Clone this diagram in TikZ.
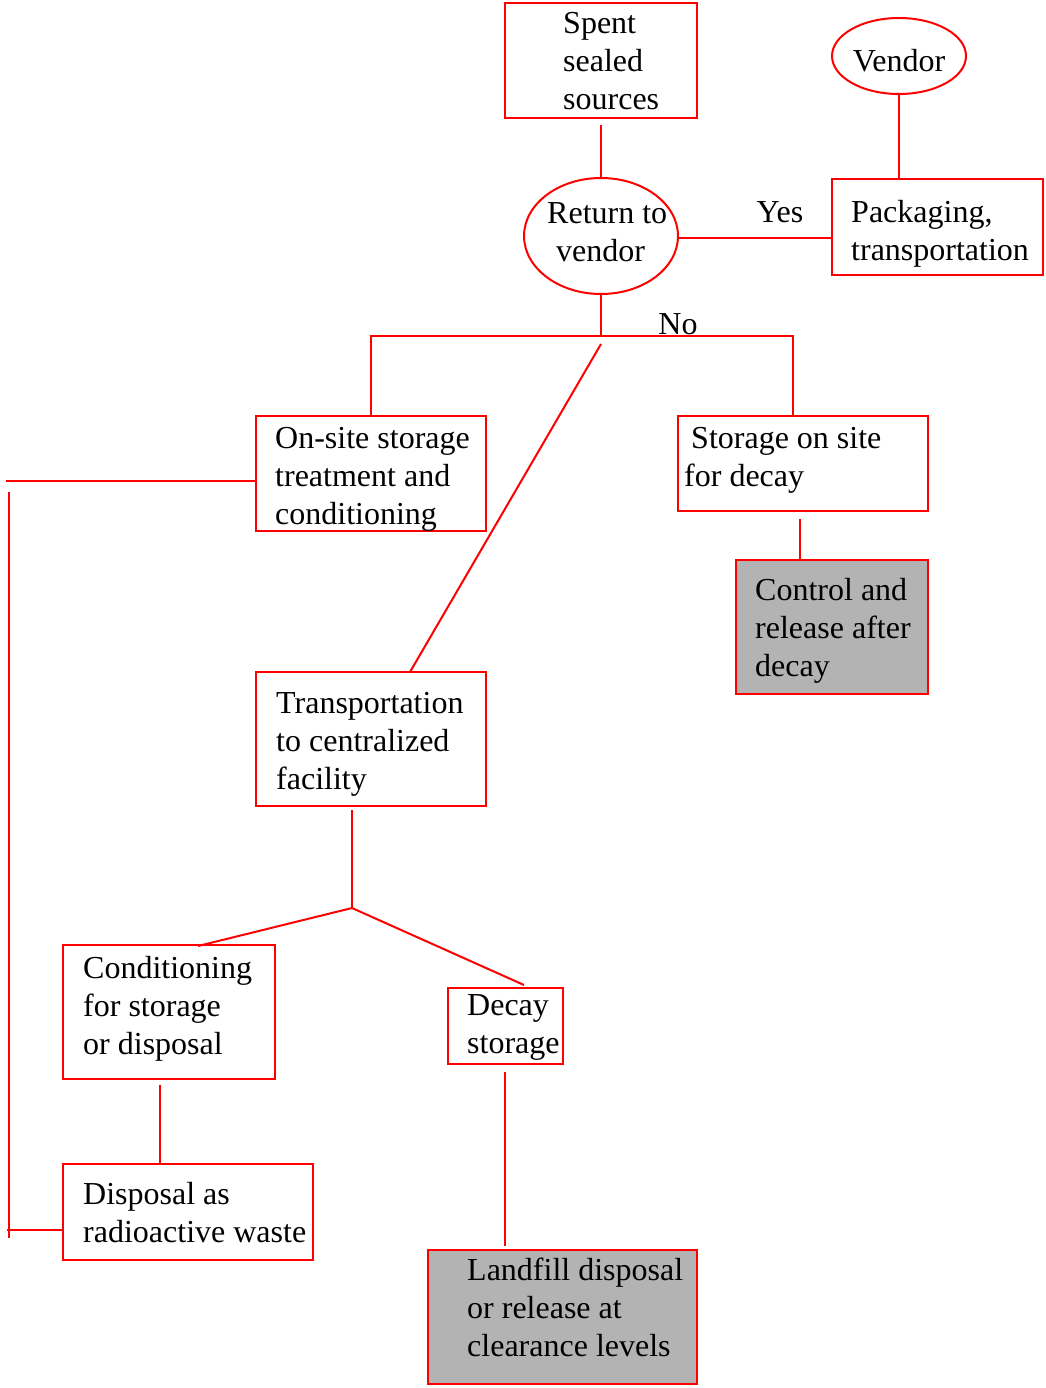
\documentclass[tikz,border=0pt]{standalone}
\usepackage{fontspec}
\setmainfont{Liberation Serif}
\usetikzlibrary{shapes.geometric}
\definecolor{boxgray}{RGB}{179,179,179}
\begin{document}
\begin{tikzpicture}[x=1pt,y=-1pt,
  box/.style={draw=red, line width=1.8pt, inner sep=0, outer sep=0, anchor=north west},
  graybox/.style={box, fill=boxgray, line width=2.4pt},
  oval/.style={draw=red, ellipse, line width=2pt, inner sep=0},
  txt/.style={font=\fontsize{32}{38}\selectfont, align=left, inner sep=0, anchor=west},
  ctxt/.style={font=\fontsize{32}{38}\selectfont, align=center, inner sep=0},
  link/.style={draw=red, line width=2pt}]
\useasboundingbox (0,0) rectangle (1045,1388);

% boxes
\node[box, minimum width=192, minimum height=115] (spent) at (505,3) {};
\node[txt] (spentT) at (563,61) {Spent\\sealed\\sources};

\node[oval, minimum width=134, minimum height=76] (vendor) at (899,56) {};
\node[ctxt] (vendorT) at (899,61) {Vendor};

\node[box, minimum width=211, minimum height=96] (pack) at (832,179) {};
\node[txt] (packT) at (851,234) {Packaging,\\transportation};

\node[oval, minimum width=154, minimum height=116] (ret) at (601,236) {};
\node[txt] (retT) at (547,232) {Return to\\\hspace{9pt}vendor};

\node[box, minimum width=230, minimum height=115] (onsite) at (256,416) {};
\node[txt] (onsiteT) at (275,479) {On-site storage\\treatment and\\conditioning};

\node[box, minimum width=250, minimum height=95] (stor) at (678,416) {};
\node[txt] (storT) at (684,460) {\hspace{7pt}Storage on site\\for decay};

\node[graybox, minimum width=192, minimum height=134] (ctrl) at (736,560) {};
\node[txt] (ctrlT) at (755,631) {Control and\\release after\\decay};

\node[box, minimum width=230, minimum height=134] (trans) at (256,672) {};
\node[txt] (transT) at (276,744) {Transportation\\to centralized\\facility};

\node[box, minimum width=212, minimum height=134] (cond) at (63,945) {};
\node[txt] (condT) at (83,1009) {Conditioning\\for storage\\or disposal};

\node[box, minimum width=115, minimum height=76] (decay) at (448,988) {};
\node[txt] (decayT) at (467,1027) {Decay\\storage};

\node[box, minimum width=250, minimum height=96] (disp) at (63,1164) {};
\node[txt] (dispT) at (83,1213) {Disposal as\\radioactive waste};

\node[graybox, minimum width=269, minimum height=134] (land) at (428,1250) {};
\node[txt] (landT) at (467,1307) {Landfill disposal\\or release at\\clearance levels};

% labels
\node[ctxt] (yes) at (780,212) {Yes};
\node[ctxt] (no) at (678,324) {No};

% coordinates
\coordinate (jl) at (371,336);
\coordinate (jm) at (601,336);
\coordinate (jr) at (793,336);
\coordinate (dg) at (601,344);
\coordinate (sc) at (800,519);
\coordinate (tb) at (352,810);
\coordinate (fork) at (352,908);
\coordinate (cb) at (160,1085);
\coordinate (db) at (505,1072);
\coordinate (dl) at (505,1246);
\coordinate (lt) at (6,481);
\coordinate (lv1) at (9,492);
\coordinate (lv2) at (9,1238);
\coordinate (lb) at (7,1230);
\coordinate (yl) at (678,238);

% connectors
\draw[link] ([yshift=-7pt]spent.south -| ret.north) -- (ret.north);
\draw[link] (vendor.south) -- (vendor.south |- pack.north);
\draw[link] (yl) -- (yl -| pack.west);
\draw[link] (ret.south) -- (jm);
\draw[link] (jl |- onsite.north) -- (jl) -- (jr) -- (jr |- stor.north);
\draw[link] (dg) -- ([xshift=39pt]trans.north);
\draw[link] (sc) -- (sc |- ctrl.north);
\draw[link] (tb) -- (fork);
\draw[link] (fork) -- ([xshift=29pt,yshift=-1pt]cond.north);
\draw[link] (fork) -- ([xshift=18.5pt,yshift=3pt]decay.north);
\draw[link] (cb) -- (cb |- disp.north);
\draw[link] (db) -- (dl);
\draw[link] (lt -| onsite.west) -- (lt);
\draw[link] (lv1) -- (lv2);
\draw[link] (lb) -- (lb -| disp.west);
\end{tikzpicture}
\end{document}
